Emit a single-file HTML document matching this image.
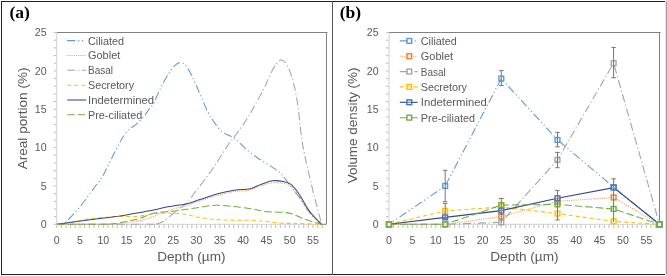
<!DOCTYPE html><html><head><meta charset="utf-8"><style>html,body{margin:0;padding:0;background:#fff;}svg{display:block;will-change:transform;}text{font-family:"Liberation Sans", sans-serif;}.serif{font-family:"Liberation Serif",serif;font-weight:bold;}</style></head><body>
<svg width="667" height="276" viewBox="0 0 667 276">
<rect x="0" y="0" width="667" height="276" fill="#fff"/>
<rect x="1" y="1" width="1" height="274" fill="#222"/>
<rect x="1" y="1" width="665" height="1" fill="#222"/>
<rect x="1" y="274" width="665" height="1" fill="#222"/>
<rect x="665" y="1" width="1" height="274" fill="#e4e4e4"/>
<rect x="666" y="1" width="1" height="274" fill="#a0a0a0"/>
<rect x="332" y="1" width="1" height="274" fill="#555"/>
<rect x="56.7" y="32" width="270.8" height="1" fill="#808080"/>
<rect x="326" y="32" width="1" height="192.5" fill="#808080"/>
<rect x="56.2" y="32.5" width="1" height="192" fill="#D0D0D0"/>
<rect x="56.2" y="223.8" width="269.8" height="1" fill="#D0D0D0"/>
<rect x="53.7" y="223.80" width="2.5" height="1" fill="#BDBDBD"/>
<rect x="53.7" y="216.13" width="2.5" height="1" fill="#BDBDBD"/>
<rect x="53.7" y="208.46" width="2.5" height="1" fill="#BDBDBD"/>
<rect x="53.7" y="200.79" width="2.5" height="1" fill="#BDBDBD"/>
<rect x="53.7" y="193.12" width="2.5" height="1" fill="#BDBDBD"/>
<rect x="53.7" y="185.45" width="2.5" height="1" fill="#BDBDBD"/>
<rect x="53.7" y="177.78" width="2.5" height="1" fill="#BDBDBD"/>
<rect x="53.7" y="170.11" width="2.5" height="1" fill="#BDBDBD"/>
<rect x="53.7" y="162.44" width="2.5" height="1" fill="#BDBDBD"/>
<rect x="53.7" y="154.77" width="2.5" height="1" fill="#BDBDBD"/>
<rect x="53.7" y="147.10" width="2.5" height="1" fill="#BDBDBD"/>
<rect x="53.7" y="139.43" width="2.5" height="1" fill="#BDBDBD"/>
<rect x="53.7" y="131.76" width="2.5" height="1" fill="#BDBDBD"/>
<rect x="53.7" y="124.09" width="2.5" height="1" fill="#BDBDBD"/>
<rect x="53.7" y="116.42" width="2.5" height="1" fill="#BDBDBD"/>
<rect x="53.7" y="108.75" width="2.5" height="1" fill="#BDBDBD"/>
<rect x="53.7" y="101.08" width="2.5" height="1" fill="#BDBDBD"/>
<rect x="53.7" y="93.41" width="2.5" height="1" fill="#BDBDBD"/>
<rect x="53.7" y="85.74" width="2.5" height="1" fill="#BDBDBD"/>
<rect x="53.7" y="78.07" width="2.5" height="1" fill="#BDBDBD"/>
<rect x="53.7" y="70.40" width="2.5" height="1" fill="#BDBDBD"/>
<rect x="53.7" y="62.73" width="2.5" height="1" fill="#BDBDBD"/>
<rect x="53.7" y="55.06" width="2.5" height="1" fill="#BDBDBD"/>
<rect x="53.7" y="47.39" width="2.5" height="1" fill="#BDBDBD"/>
<rect x="53.7" y="39.72" width="2.5" height="1" fill="#BDBDBD"/>
<rect x="53.7" y="32.05" width="2.5" height="1" fill="#BDBDBD"/>
<rect x="56.20" y="224.7" width="1" height="3.4" fill="#BDBDBD"/>
<rect x="60.86" y="224.7" width="1" height="3.4" fill="#BDBDBD"/>
<rect x="65.52" y="224.7" width="1" height="3.4" fill="#BDBDBD"/>
<rect x="70.18" y="224.7" width="1" height="3.4" fill="#BDBDBD"/>
<rect x="74.84" y="224.7" width="1" height="3.4" fill="#BDBDBD"/>
<rect x="79.50" y="224.7" width="1" height="3.4" fill="#BDBDBD"/>
<rect x="84.16" y="224.7" width="1" height="3.4" fill="#BDBDBD"/>
<rect x="88.82" y="224.7" width="1" height="3.4" fill="#BDBDBD"/>
<rect x="93.48" y="224.7" width="1" height="3.4" fill="#BDBDBD"/>
<rect x="98.14" y="224.7" width="1" height="3.4" fill="#BDBDBD"/>
<rect x="102.80" y="224.7" width="1" height="3.4" fill="#BDBDBD"/>
<rect x="107.46" y="224.7" width="1" height="3.4" fill="#BDBDBD"/>
<rect x="112.12" y="224.7" width="1" height="3.4" fill="#BDBDBD"/>
<rect x="116.78" y="224.7" width="1" height="3.4" fill="#BDBDBD"/>
<rect x="121.44" y="224.7" width="1" height="3.4" fill="#BDBDBD"/>
<rect x="126.10" y="224.7" width="1" height="3.4" fill="#BDBDBD"/>
<rect x="130.76" y="224.7" width="1" height="3.4" fill="#BDBDBD"/>
<rect x="135.42" y="224.7" width="1" height="3.4" fill="#BDBDBD"/>
<rect x="140.08" y="224.7" width="1" height="3.4" fill="#BDBDBD"/>
<rect x="144.74" y="224.7" width="1" height="3.4" fill="#BDBDBD"/>
<rect x="149.40" y="224.7" width="1" height="3.4" fill="#BDBDBD"/>
<rect x="154.06" y="224.7" width="1" height="3.4" fill="#BDBDBD"/>
<rect x="158.72" y="224.7" width="1" height="3.4" fill="#BDBDBD"/>
<rect x="163.38" y="224.7" width="1" height="3.4" fill="#BDBDBD"/>
<rect x="168.04" y="224.7" width="1" height="3.4" fill="#BDBDBD"/>
<rect x="172.70" y="224.7" width="1" height="3.4" fill="#BDBDBD"/>
<rect x="177.36" y="224.7" width="1" height="3.4" fill="#BDBDBD"/>
<rect x="182.02" y="224.7" width="1" height="3.4" fill="#BDBDBD"/>
<rect x="186.68" y="224.7" width="1" height="3.4" fill="#BDBDBD"/>
<rect x="191.34" y="224.7" width="1" height="3.4" fill="#BDBDBD"/>
<rect x="196.00" y="224.7" width="1" height="3.4" fill="#BDBDBD"/>
<rect x="200.66" y="224.7" width="1" height="3.4" fill="#BDBDBD"/>
<rect x="205.32" y="224.7" width="1" height="3.4" fill="#BDBDBD"/>
<rect x="209.98" y="224.7" width="1" height="3.4" fill="#BDBDBD"/>
<rect x="214.64" y="224.7" width="1" height="3.4" fill="#BDBDBD"/>
<rect x="219.30" y="224.7" width="1" height="3.4" fill="#BDBDBD"/>
<rect x="223.96" y="224.7" width="1" height="3.4" fill="#BDBDBD"/>
<rect x="228.62" y="224.7" width="1" height="3.4" fill="#BDBDBD"/>
<rect x="233.28" y="224.7" width="1" height="3.4" fill="#BDBDBD"/>
<rect x="237.94" y="224.7" width="1" height="3.4" fill="#BDBDBD"/>
<rect x="242.60" y="224.7" width="1" height="3.4" fill="#BDBDBD"/>
<rect x="247.26" y="224.7" width="1" height="3.4" fill="#BDBDBD"/>
<rect x="251.92" y="224.7" width="1" height="3.4" fill="#BDBDBD"/>
<rect x="256.58" y="224.7" width="1" height="3.4" fill="#BDBDBD"/>
<rect x="261.24" y="224.7" width="1" height="3.4" fill="#BDBDBD"/>
<rect x="265.90" y="224.7" width="1" height="3.4" fill="#BDBDBD"/>
<rect x="270.56" y="224.7" width="1" height="3.4" fill="#BDBDBD"/>
<rect x="275.22" y="224.7" width="1" height="3.4" fill="#BDBDBD"/>
<rect x="279.88" y="224.7" width="1" height="3.4" fill="#BDBDBD"/>
<rect x="284.54" y="224.7" width="1" height="3.4" fill="#BDBDBD"/>
<rect x="289.20" y="224.7" width="1" height="3.4" fill="#BDBDBD"/>
<rect x="293.86" y="224.7" width="1" height="3.4" fill="#BDBDBD"/>
<rect x="298.52" y="224.7" width="1" height="3.4" fill="#BDBDBD"/>
<rect x="303.18" y="224.7" width="1" height="3.4" fill="#BDBDBD"/>
<rect x="307.84" y="224.7" width="1" height="3.4" fill="#BDBDBD"/>
<rect x="312.50" y="224.7" width="1" height="3.4" fill="#BDBDBD"/>
<rect x="317.16" y="224.7" width="1" height="3.4" fill="#BDBDBD"/>
<rect x="321.82" y="224.7" width="1" height="3.4" fill="#BDBDBD"/>
<rect x="389.0" y="32" width="271.5" height="1" fill="#808080"/>
<rect x="659" y="32" width="1" height="192.5" fill="#808080"/>
<rect x="388.5" y="32.5" width="1" height="192" fill="#D0D0D0"/>
<rect x="388.5" y="223.8" width="270.5" height="1" fill="#D0D0D0"/>
<rect x="386.0" y="223.80" width="2.5" height="1" fill="#BDBDBD"/>
<rect x="386.0" y="216.13" width="2.5" height="1" fill="#BDBDBD"/>
<rect x="386.0" y="208.46" width="2.5" height="1" fill="#BDBDBD"/>
<rect x="386.0" y="200.79" width="2.5" height="1" fill="#BDBDBD"/>
<rect x="386.0" y="193.12" width="2.5" height="1" fill="#BDBDBD"/>
<rect x="386.0" y="185.45" width="2.5" height="1" fill="#BDBDBD"/>
<rect x="386.0" y="177.78" width="2.5" height="1" fill="#BDBDBD"/>
<rect x="386.0" y="170.11" width="2.5" height="1" fill="#BDBDBD"/>
<rect x="386.0" y="162.44" width="2.5" height="1" fill="#BDBDBD"/>
<rect x="386.0" y="154.77" width="2.5" height="1" fill="#BDBDBD"/>
<rect x="386.0" y="147.10" width="2.5" height="1" fill="#BDBDBD"/>
<rect x="386.0" y="139.43" width="2.5" height="1" fill="#BDBDBD"/>
<rect x="386.0" y="131.76" width="2.5" height="1" fill="#BDBDBD"/>
<rect x="386.0" y="124.09" width="2.5" height="1" fill="#BDBDBD"/>
<rect x="386.0" y="116.42" width="2.5" height="1" fill="#BDBDBD"/>
<rect x="386.0" y="108.75" width="2.5" height="1" fill="#BDBDBD"/>
<rect x="386.0" y="101.08" width="2.5" height="1" fill="#BDBDBD"/>
<rect x="386.0" y="93.41" width="2.5" height="1" fill="#BDBDBD"/>
<rect x="386.0" y="85.74" width="2.5" height="1" fill="#BDBDBD"/>
<rect x="386.0" y="78.07" width="2.5" height="1" fill="#BDBDBD"/>
<rect x="386.0" y="70.40" width="2.5" height="1" fill="#BDBDBD"/>
<rect x="386.0" y="62.73" width="2.5" height="1" fill="#BDBDBD"/>
<rect x="386.0" y="55.06" width="2.5" height="1" fill="#BDBDBD"/>
<rect x="386.0" y="47.39" width="2.5" height="1" fill="#BDBDBD"/>
<rect x="386.0" y="39.72" width="2.5" height="1" fill="#BDBDBD"/>
<rect x="386.0" y="32.05" width="2.5" height="1" fill="#BDBDBD"/>
<rect x="388.50" y="224.7" width="1" height="3.4" fill="#BDBDBD"/>
<rect x="393.18" y="224.7" width="1" height="3.4" fill="#BDBDBD"/>
<rect x="397.86" y="224.7" width="1" height="3.4" fill="#BDBDBD"/>
<rect x="402.54" y="224.7" width="1" height="3.4" fill="#BDBDBD"/>
<rect x="407.22" y="224.7" width="1" height="3.4" fill="#BDBDBD"/>
<rect x="411.90" y="224.7" width="1" height="3.4" fill="#BDBDBD"/>
<rect x="416.58" y="224.7" width="1" height="3.4" fill="#BDBDBD"/>
<rect x="421.26" y="224.7" width="1" height="3.4" fill="#BDBDBD"/>
<rect x="425.94" y="224.7" width="1" height="3.4" fill="#BDBDBD"/>
<rect x="430.62" y="224.7" width="1" height="3.4" fill="#BDBDBD"/>
<rect x="435.30" y="224.7" width="1" height="3.4" fill="#BDBDBD"/>
<rect x="439.98" y="224.7" width="1" height="3.4" fill="#BDBDBD"/>
<rect x="444.66" y="224.7" width="1" height="3.4" fill="#BDBDBD"/>
<rect x="449.34" y="224.7" width="1" height="3.4" fill="#BDBDBD"/>
<rect x="454.02" y="224.7" width="1" height="3.4" fill="#BDBDBD"/>
<rect x="458.70" y="224.7" width="1" height="3.4" fill="#BDBDBD"/>
<rect x="463.38" y="224.7" width="1" height="3.4" fill="#BDBDBD"/>
<rect x="468.06" y="224.7" width="1" height="3.4" fill="#BDBDBD"/>
<rect x="472.74" y="224.7" width="1" height="3.4" fill="#BDBDBD"/>
<rect x="477.42" y="224.7" width="1" height="3.4" fill="#BDBDBD"/>
<rect x="482.10" y="224.7" width="1" height="3.4" fill="#BDBDBD"/>
<rect x="486.78" y="224.7" width="1" height="3.4" fill="#BDBDBD"/>
<rect x="491.46" y="224.7" width="1" height="3.4" fill="#BDBDBD"/>
<rect x="496.14" y="224.7" width="1" height="3.4" fill="#BDBDBD"/>
<rect x="500.82" y="224.7" width="1" height="3.4" fill="#BDBDBD"/>
<rect x="505.50" y="224.7" width="1" height="3.4" fill="#BDBDBD"/>
<rect x="510.18" y="224.7" width="1" height="3.4" fill="#BDBDBD"/>
<rect x="514.86" y="224.7" width="1" height="3.4" fill="#BDBDBD"/>
<rect x="519.54" y="224.7" width="1" height="3.4" fill="#BDBDBD"/>
<rect x="524.22" y="224.7" width="1" height="3.4" fill="#BDBDBD"/>
<rect x="528.90" y="224.7" width="1" height="3.4" fill="#BDBDBD"/>
<rect x="533.58" y="224.7" width="1" height="3.4" fill="#BDBDBD"/>
<rect x="538.26" y="224.7" width="1" height="3.4" fill="#BDBDBD"/>
<rect x="542.94" y="224.7" width="1" height="3.4" fill="#BDBDBD"/>
<rect x="547.62" y="224.7" width="1" height="3.4" fill="#BDBDBD"/>
<rect x="552.30" y="224.7" width="1" height="3.4" fill="#BDBDBD"/>
<rect x="556.98" y="224.7" width="1" height="3.4" fill="#BDBDBD"/>
<rect x="561.66" y="224.7" width="1" height="3.4" fill="#BDBDBD"/>
<rect x="566.34" y="224.7" width="1" height="3.4" fill="#BDBDBD"/>
<rect x="571.02" y="224.7" width="1" height="3.4" fill="#BDBDBD"/>
<rect x="575.70" y="224.7" width="1" height="3.4" fill="#BDBDBD"/>
<rect x="580.38" y="224.7" width="1" height="3.4" fill="#BDBDBD"/>
<rect x="585.06" y="224.7" width="1" height="3.4" fill="#BDBDBD"/>
<rect x="589.74" y="224.7" width="1" height="3.4" fill="#BDBDBD"/>
<rect x="594.42" y="224.7" width="1" height="3.4" fill="#BDBDBD"/>
<rect x="599.10" y="224.7" width="1" height="3.4" fill="#BDBDBD"/>
<rect x="603.78" y="224.7" width="1" height="3.4" fill="#BDBDBD"/>
<rect x="608.46" y="224.7" width="1" height="3.4" fill="#BDBDBD"/>
<rect x="613.14" y="224.7" width="1" height="3.4" fill="#BDBDBD"/>
<rect x="617.82" y="224.7" width="1" height="3.4" fill="#BDBDBD"/>
<rect x="622.50" y="224.7" width="1" height="3.4" fill="#BDBDBD"/>
<rect x="627.18" y="224.7" width="1" height="3.4" fill="#BDBDBD"/>
<rect x="631.86" y="224.7" width="1" height="3.4" fill="#BDBDBD"/>
<rect x="636.54" y="224.7" width="1" height="3.4" fill="#BDBDBD"/>
<rect x="641.22" y="224.7" width="1" height="3.4" fill="#BDBDBD"/>
<rect x="645.90" y="224.7" width="1" height="3.4" fill="#BDBDBD"/>
<rect x="650.58" y="224.7" width="1" height="3.4" fill="#BDBDBD"/>
<rect x="655.26" y="224.7" width="1" height="3.4" fill="#BDBDBD"/>
<text x="46.6" y="228.1" font-size="10.6" fill="#595959" text-anchor="end">0</text>
<text x="46.6" y="189.8" font-size="10.6" fill="#595959" text-anchor="end">5</text>
<text x="46.6" y="151.4" font-size="10.6" fill="#595959" text-anchor="end">10</text>
<text x="46.6" y="113.1" font-size="10.6" fill="#595959" text-anchor="end">15</text>
<text x="46.6" y="74.7" font-size="10.6" fill="#595959" text-anchor="end">20</text>
<text x="46.6" y="36.4" font-size="10.6" fill="#595959" text-anchor="end">25</text>
<text x="56.7" y="243.6" font-size="10.6" fill="#595959" text-anchor="middle">0</text>
<text x="80.0" y="243.6" font-size="10.6" fill="#595959" text-anchor="middle">5</text>
<text x="103.3" y="243.6" font-size="10.6" fill="#595959" text-anchor="middle">10</text>
<text x="126.6" y="243.6" font-size="10.6" fill="#595959" text-anchor="middle">15</text>
<text x="149.9" y="243.6" font-size="10.6" fill="#595959" text-anchor="middle">20</text>
<text x="173.2" y="243.6" font-size="10.6" fill="#595959" text-anchor="middle">25</text>
<text x="196.5" y="243.6" font-size="10.6" fill="#595959" text-anchor="middle">30</text>
<text x="219.8" y="243.6" font-size="10.6" fill="#595959" text-anchor="middle">35</text>
<text x="243.1" y="243.6" font-size="10.6" fill="#595959" text-anchor="middle">40</text>
<text x="266.4" y="243.6" font-size="10.6" fill="#595959" text-anchor="middle">45</text>
<text x="289.7" y="243.6" font-size="10.6" fill="#595959" text-anchor="middle">50</text>
<text x="313.0" y="243.6" font-size="10.6" fill="#595959" text-anchor="middle">55</text>
<text x="378.6" y="228.1" font-size="10.6" fill="#595959" text-anchor="end">0</text>
<text x="378.6" y="189.8" font-size="10.6" fill="#595959" text-anchor="end">5</text>
<text x="378.6" y="151.4" font-size="10.6" fill="#595959" text-anchor="end">10</text>
<text x="378.6" y="113.1" font-size="10.6" fill="#595959" text-anchor="end">15</text>
<text x="378.6" y="74.7" font-size="10.6" fill="#595959" text-anchor="end">20</text>
<text x="378.6" y="36.4" font-size="10.6" fill="#595959" text-anchor="end">25</text>
<text x="389.0" y="243.6" font-size="10.6" fill="#595959" text-anchor="middle">0</text>
<text x="412.4" y="243.6" font-size="10.6" fill="#595959" text-anchor="middle">5</text>
<text x="435.8" y="243.6" font-size="10.6" fill="#595959" text-anchor="middle">10</text>
<text x="459.2" y="243.6" font-size="10.6" fill="#595959" text-anchor="middle">15</text>
<text x="482.6" y="243.6" font-size="10.6" fill="#595959" text-anchor="middle">20</text>
<text x="506.0" y="243.6" font-size="10.6" fill="#595959" text-anchor="middle">25</text>
<text x="529.4" y="243.6" font-size="10.6" fill="#595959" text-anchor="middle">30</text>
<text x="552.8" y="243.6" font-size="10.6" fill="#595959" text-anchor="middle">35</text>
<text x="576.2" y="243.6" font-size="10.6" fill="#595959" text-anchor="middle">40</text>
<text x="599.6" y="243.6" font-size="10.6" fill="#595959" text-anchor="middle">45</text>
<text x="623.0" y="243.6" font-size="10.6" fill="#595959" text-anchor="middle">50</text>
<text x="646.4" y="243.6" font-size="10.6" fill="#595959" text-anchor="middle">55</text>
<text x="191.4" y="261.0" font-size="13.0" fill="#595959" text-anchor="middle" textLength="68.3" lengthAdjust="spacingAndGlyphs">Depth (µm)</text>
<text x="524.4" y="261.2" font-size="13.0" fill="#595959" text-anchor="middle" textLength="68.3" lengthAdjust="spacingAndGlyphs">Depth (µm)</text>
<text transform="translate(26.6,118.4) rotate(-90)" font-size="13.0" textLength="101.8" lengthAdjust="spacingAndGlyphs" fill="#595959" text-anchor="middle">Areal portion (%)</text>
<text transform="translate(357.3,125.4) rotate(-90)" font-size="13.0" textLength="115.8" lengthAdjust="spacingAndGlyphs" fill="#595959" text-anchor="middle">Volume density (%)</text>
<text x="9.5" y="18.2" class="serif" font-size="17.5" fill="#000">(a)</text>
<text x="339.8" y="18.2" class="serif" font-size="17.5" fill="#000">(b)</text>
<g>
<path d="M57.0,224.3 C57.7,224.2 59.6,224.3 61.0,224.0 C62.4,223.7 63.3,224.0 65.5,222.3 C67.7,220.6 71.2,216.7 74.0,213.6 C76.8,210.5 79.6,207.3 82.4,203.7 C85.2,200.1 88.6,195.3 90.9,192.2 C93.2,189.1 94.3,187.5 96.0,185.3 C97.7,183.1 99.6,181.1 101.0,179.0 C102.4,176.9 103.3,175.1 104.5,172.8 C105.7,170.6 106.7,168.1 108.0,165.5 C109.3,162.9 110.9,159.8 112.2,157.2 C113.5,154.5 114.8,152.0 116.0,149.6 C117.2,147.2 118.3,145.1 119.5,143.0 C120.7,140.9 121.3,139.3 123.0,137.0 C124.7,134.7 127.4,131.1 129.6,129.0 C131.8,126.9 133.9,126.3 136.1,124.4 C138.3,122.5 140.4,120.3 142.6,117.8 C144.8,115.3 147.3,111.7 149.1,109.3 C150.9,106.9 152.1,106.2 153.6,103.6 C155.1,101.0 156.4,97.1 158.1,93.5 C159.8,89.9 161.8,85.6 163.6,82.2 C165.4,78.8 167.2,75.8 169.0,73.1 C170.8,70.4 172.6,67.7 174.4,65.9 C176.2,64.1 178.1,62.6 179.9,62.4 C181.7,62.2 183.6,63.2 185.3,64.8 C187.0,66.4 188.6,69.8 190.0,72.2 C191.4,74.7 192.4,77.1 193.5,79.5 C194.6,81.9 195.6,83.8 196.8,86.5 C198.0,89.2 199.0,91.9 200.8,96.0 C202.6,100.1 205.4,107.1 207.5,111.3 C209.6,115.5 211.0,117.9 213.5,121.3 C216.0,124.7 218.8,128.9 222.3,131.8 C225.9,134.7 230.8,135.7 234.8,138.6 C238.8,141.5 242.5,146.1 246.4,149.4 C250.3,152.7 254.1,155.5 258.0,158.2 C261.9,160.9 266.4,163.2 270.0,165.6 C273.6,168.0 277.3,170.4 279.8,172.6 C282.3,174.8 283.3,176.4 285.0,178.5 C286.7,180.6 288.3,183.0 290.0,185.2 C291.7,187.4 293.4,189.7 295.0,191.8 C296.6,193.9 297.1,194.3 299.5,197.6 C301.9,200.9 305.7,207.1 309.3,211.6 C312.9,216.1 319.4,222.2 321.4,224.3" fill="none" stroke="#5B9BD5" stroke-width="1.05" stroke-dasharray="8.2 2.7 1.2 2.7 1.2 2.7" stroke-dashoffset="6"/>
<path d="M57.0,224.3 C64.2,224.3 90.8,224.2 100.0,224.2 C109.2,224.1 108.7,224.1 112.0,224.0 C115.3,223.9 116.7,223.8 120.0,223.4 C123.3,223.0 127.7,222.5 132.0,221.8 C136.3,221.1 140.8,220.5 146.1,219.0 C151.4,217.5 158.6,214.4 163.6,212.6 C168.6,210.8 171.9,209.5 176.0,208.3 C180.1,207.1 184.0,206.4 188.0,205.2 C192.0,203.9 195.2,202.4 200.0,200.8 C204.8,199.2 211.3,197.1 217.0,195.6 C222.7,194.1 229.2,192.4 234.0,191.6 C238.8,190.8 243.0,191.0 246.0,190.6 C249.0,190.2 250.0,190.0 252.0,189.4 C254.0,188.8 255.8,188.0 258.0,187.2 C260.2,186.4 262.6,185.3 265.0,184.6 C267.4,183.9 269.4,183.1 272.2,182.8 C275.0,182.5 279.0,182.5 282.0,183.0 C285.0,183.5 287.1,183.6 290.0,186.0 C292.9,188.4 296.3,192.9 299.5,197.3 C302.7,201.7 305.4,208.1 309.0,212.6 C312.6,217.1 319.3,222.4 321.4,224.3" fill="none" stroke="#ED7D31" stroke-width="1.1" stroke-opacity="0.8" stroke-dasharray="1 1.2"/>
<path d="M57.0,224.3 C72.5,224.3 133.3,224.4 150.0,224.3 C166.7,224.2 154.8,224.3 157.0,223.8 C159.2,223.3 160.5,223.1 163.0,221.5 C165.5,219.9 169.2,216.7 172.0,214.5 C174.8,212.3 177.4,210.6 180.0,208.5 C182.6,206.4 184.8,204.7 187.5,201.8 C190.2,198.9 193.1,194.7 196.0,191.0 C198.9,187.3 201.9,183.5 204.7,179.7 C207.5,175.9 210.4,172.0 213.0,168.3 C215.6,164.6 217.3,161.6 220.0,157.5 C222.7,153.4 226.1,147.6 229.0,143.5 C231.9,139.4 234.1,137.2 237.2,133.0 C240.3,128.8 244.2,123.4 247.4,118.4 C250.6,113.4 253.2,108.0 256.1,102.8 C259.0,97.5 262.2,92.2 264.8,86.9 C267.4,81.6 269.8,75.0 272.0,70.9 C274.2,66.8 276.1,64.0 277.8,62.2 C279.5,60.4 280.5,59.5 282.2,60.2 C283.9,60.9 286.1,62.6 288.0,66.6 C289.9,70.6 292.1,77.2 293.8,84.0 C295.5,90.8 296.9,99.0 298.1,107.2 C299.3,115.4 300.0,125.8 301.0,133.3 C302.0,140.8 302.9,146.3 304.0,152.0 C305.1,157.7 305.7,160.4 307.4,167.6 C309.1,174.8 311.7,185.7 314.0,195.0 C316.3,204.3 320.2,218.8 321.4,223.5" fill="none" stroke="#A5A5A5" stroke-width="1.05" stroke-dasharray="8.2 2.7 1.2 2.7"/>
<path d="M57.0,224.3 C58.5,224.1 62.9,223.7 66.0,223.2 C69.1,222.7 71.6,222.2 75.7,221.5 C79.8,220.8 85.9,219.5 90.8,218.8 C95.7,218.1 100.1,217.7 105.0,217.3 C109.9,216.9 114.6,216.8 120.0,216.6 C125.4,216.4 131.6,216.7 137.4,216.2 C143.2,215.7 149.6,214.1 154.8,213.6 C160.0,213.1 163.8,213.0 168.8,213.1 C173.8,213.2 179.8,213.4 185.0,214.2 C190.2,214.9 194.5,216.7 199.8,217.6 C205.1,218.5 211.1,219.2 217.0,219.6 C222.9,220.0 228.7,220.1 235.0,220.2 C241.3,220.3 249.2,220.1 255.0,220.4 C260.8,220.7 264.7,221.6 269.7,222.1 C274.7,222.6 280.1,223.1 285.0,223.3 C289.9,223.5 293.2,223.3 299.3,223.5 C305.4,223.7 317.7,224.2 321.4,224.3" fill="none" stroke="#FFC000" stroke-width="1.05" stroke-dasharray="4 3"/>
<path d="M57.0,224.3 C62.5,223.6 79.5,221.2 90.0,219.8 C100.5,218.4 111.7,217.2 120.0,216.0 C128.3,214.8 134.2,213.5 140.0,212.5 C145.8,211.5 150.6,210.7 154.8,209.8 C159.0,208.9 161.8,208.0 165.3,207.3 C168.8,206.6 172.4,206.2 176.0,205.6 C179.6,205.0 183.0,204.8 187.0,203.8 C191.0,202.8 194.8,201.2 199.8,199.6 C204.8,198.0 211.2,195.6 217.0,194.0 C222.8,192.4 229.5,191.1 234.3,190.3 C239.1,189.5 243.1,189.7 246.0,189.3 C248.9,189.0 250.0,188.8 252.0,188.2 C254.0,187.6 255.8,186.5 258.0,185.6 C260.2,184.7 262.6,183.7 265.0,182.9 C267.4,182.1 269.4,181.1 272.2,180.8 C275.0,180.5 278.9,180.6 282.0,181.2 C285.1,181.8 287.7,182.0 290.6,184.2 C293.5,186.4 296.1,189.8 299.2,194.2 C302.3,198.6 305.4,205.8 309.1,210.8 C312.8,215.8 319.3,222.1 321.4,224.3" fill="none" stroke="#2C4A86" stroke-width="1.05"/>
<path d="M57.0,224.3 C64.2,224.3 91.2,224.3 100.0,224.3 C108.8,224.3 106.7,224.4 110.0,224.1 C113.3,223.8 115.4,223.5 120.0,222.7 C124.6,221.8 131.6,220.6 137.4,219.0 C143.2,217.4 149.0,214.3 154.8,213.0 C160.6,211.7 167.3,211.8 172.3,211.2 C177.3,210.6 180.4,210.1 185.0,209.4 C189.6,208.8 194.5,208.0 199.8,207.3 C205.1,206.6 211.2,205.3 217.0,205.2 C222.8,205.1 228.6,206.0 234.3,206.6 C240.1,207.2 246.4,208.0 251.5,208.8 C256.6,209.6 259.7,210.9 264.8,211.5 C269.9,212.1 277.5,211.9 282.0,212.3 C286.5,212.7 288.2,212.7 291.9,213.8 C295.6,214.9 299.3,217.2 304.2,219.0 C309.1,220.8 318.5,223.4 321.4,224.3" fill="none" stroke="#70AD47" stroke-width="1.05" stroke-dasharray="7.5 3"/>
<path d="M320.5,224.3 H326" stroke="#70AD47" stroke-width="1.05" fill="none"/>
</g>
<g>
<path d="M389.0,224.3 L445.2,186.0 L501.3,78.6 L557.5,139.9 L613.6,187.1 L659.5,224.3" fill="none" stroke="#5B9BD5" stroke-width="1.1" stroke-dasharray="8.2 2.7 1.2 2.7 1.2 2.7" stroke-dashoffset="6"/>
<path d="M389.0,224.3 L445.2,224.3 L501.3,216.6 L557.5,201.3 L613.6,197.5 L659.5,224.3" fill="none" stroke="#ED7D31" stroke-width="1.1" stroke-opacity="0.8" stroke-dasharray="1 1.2"/>
<path d="M389.0,224.3 L445.2,224.3 L501.3,222.3 L557.5,159.9 L613.6,63.2 L659.5,224.3" fill="none" stroke="#A5A5A5" stroke-width="1.1" stroke-dasharray="8.2 2.7 1.2 2.7"/>
<path d="M389.0,224.3 L445.2,210.9 L501.3,207.0 L557.5,213.6 L613.6,221.4 L659.5,224.3" fill="none" stroke="#FFC000" stroke-width="1.1" stroke-dasharray="4 3"/>
<path d="M389.0,224.3 L445.2,217.4 L501.3,210.6 L557.5,198.2 L613.6,187.6 L659.5,224.3" fill="none" stroke="#2C4A86" stroke-width="1.1"/>
<path d="M389.0,224.3 L445.2,224.3 L501.3,205.1 L557.5,204.4 L613.6,209.0 L659.5,224.3" fill="none" stroke="#70AD47" stroke-width="1.1" stroke-dasharray="7.5 3"/>
<rect x="386.60" y="221.90" width="4.8" height="4.8" fill="#fff" fill-opacity="0.25" stroke="#5B9BD5" stroke-width="1.4"/>
<rect x="442.76" y="183.55" width="4.8" height="4.8" fill="#fff" fill-opacity="0.25" stroke="#5B9BD5" stroke-width="1.4"/>
<rect x="498.92" y="76.17" width="4.8" height="4.8" fill="#fff" fill-opacity="0.25" stroke="#5B9BD5" stroke-width="1.4"/>
<rect x="555.08" y="137.53" width="4.8" height="4.8" fill="#fff" fill-opacity="0.25" stroke="#5B9BD5" stroke-width="1.4"/>
<rect x="611.24" y="184.70" width="4.8" height="4.8" fill="#fff" fill-opacity="0.25" stroke="#5B9BD5" stroke-width="1.4"/>
<rect x="657.10" y="221.90" width="4.8" height="4.8" fill="#fff" fill-opacity="0.25" stroke="#5B9BD5" stroke-width="1.4"/>
<rect x="386.60" y="221.90" width="4.8" height="4.8" fill="#fff" fill-opacity="0.25" stroke="#ED7D31" stroke-width="1.4"/>
<rect x="442.76" y="221.90" width="4.8" height="4.8" fill="#fff" fill-opacity="0.25" stroke="#ED7D31" stroke-width="1.4"/>
<rect x="498.92" y="214.23" width="4.8" height="4.8" fill="#fff" fill-opacity="0.25" stroke="#ED7D31" stroke-width="1.4"/>
<rect x="555.08" y="198.89" width="4.8" height="4.8" fill="#fff" fill-opacity="0.25" stroke="#ED7D31" stroke-width="1.4"/>
<rect x="611.24" y="195.06" width="4.8" height="4.8" fill="#fff" fill-opacity="0.25" stroke="#ED7D31" stroke-width="1.4"/>
<rect x="657.10" y="221.90" width="4.8" height="4.8" fill="#fff" fill-opacity="0.25" stroke="#ED7D31" stroke-width="1.4"/>
<rect x="386.60" y="221.90" width="4.8" height="4.8" fill="#fff" fill-opacity="0.25" stroke="#A5A5A5" stroke-width="1.4"/>
<rect x="442.76" y="221.90" width="4.8" height="4.8" fill="#fff" fill-opacity="0.25" stroke="#A5A5A5" stroke-width="1.4"/>
<rect x="498.92" y="219.91" width="4.8" height="4.8" fill="#fff" fill-opacity="0.25" stroke="#A5A5A5" stroke-width="1.4"/>
<rect x="555.08" y="157.47" width="4.8" height="4.8" fill="#fff" fill-opacity="0.25" stroke="#A5A5A5" stroke-width="1.4"/>
<rect x="611.24" y="60.83" width="4.8" height="4.8" fill="#fff" fill-opacity="0.25" stroke="#A5A5A5" stroke-width="1.4"/>
<rect x="657.10" y="221.90" width="4.8" height="4.8" fill="#fff" fill-opacity="0.25" stroke="#A5A5A5" stroke-width="1.4"/>
<rect x="386.60" y="221.90" width="4.8" height="4.8" fill="#fff" fill-opacity="0.25" stroke="#FFC000" stroke-width="1.4"/>
<rect x="442.76" y="208.48" width="4.8" height="4.8" fill="#fff" fill-opacity="0.25" stroke="#FFC000" stroke-width="1.4"/>
<rect x="498.92" y="204.64" width="4.8" height="4.8" fill="#fff" fill-opacity="0.25" stroke="#FFC000" stroke-width="1.4"/>
<rect x="555.08" y="211.16" width="4.8" height="4.8" fill="#fff" fill-opacity="0.25" stroke="#FFC000" stroke-width="1.4"/>
<rect x="611.24" y="218.99" width="4.8" height="4.8" fill="#fff" fill-opacity="0.25" stroke="#FFC000" stroke-width="1.4"/>
<rect x="657.10" y="221.90" width="4.8" height="4.8" fill="#fff" fill-opacity="0.25" stroke="#FFC000" stroke-width="1.4"/>
<rect x="386.60" y="221.90" width="4.8" height="4.8" fill="#fff" fill-opacity="0.25" stroke="#4472C4" stroke-width="1.4"/>
<rect x="442.76" y="215.00" width="4.8" height="4.8" fill="#fff" fill-opacity="0.25" stroke="#4472C4" stroke-width="1.4"/>
<rect x="498.92" y="208.17" width="4.8" height="4.8" fill="#fff" fill-opacity="0.25" stroke="#4472C4" stroke-width="1.4"/>
<rect x="555.08" y="195.82" width="4.8" height="4.8" fill="#fff" fill-opacity="0.25" stroke="#4472C4" stroke-width="1.4"/>
<rect x="611.24" y="185.24" width="4.8" height="4.8" fill="#fff" fill-opacity="0.25" stroke="#4472C4" stroke-width="1.4"/>
<rect x="657.10" y="221.90" width="4.8" height="4.8" fill="#fff" fill-opacity="0.25" stroke="#4472C4" stroke-width="1.4"/>
<rect x="386.60" y="221.90" width="4.8" height="4.8" fill="#fff" fill-opacity="0.25" stroke="#70AD47" stroke-width="1.4"/>
<rect x="442.76" y="221.90" width="4.8" height="4.8" fill="#fff" fill-opacity="0.25" stroke="#70AD47" stroke-width="1.4"/>
<rect x="498.92" y="202.72" width="4.8" height="4.8" fill="#fff" fill-opacity="0.25" stroke="#70AD47" stroke-width="1.4"/>
<rect x="555.08" y="201.96" width="4.8" height="4.8" fill="#fff" fill-opacity="0.25" stroke="#70AD47" stroke-width="1.4"/>
<rect x="611.24" y="206.56" width="4.8" height="4.8" fill="#fff" fill-opacity="0.25" stroke="#70AD47" stroke-width="1.4"/>
<rect x="657.10" y="221.90" width="4.8" height="4.8" fill="#fff" fill-opacity="0.25" stroke="#70AD47" stroke-width="1.4"/>
<path d="M445.2,170.3 V201.7 M442.9,170.3 h4.5 M442.9,201.7 h4.5" stroke="#777" stroke-width="1" fill="none"/>
<path d="M445.2,203.4 V218.6 M442.9,203.4 h4.5 M442.9,218.6 h4.5" stroke="#777" stroke-width="1" fill="none"/>
<path d="M501.3,70.6 V85.5 M499.1,70.6 h4.5 M499.1,85.5 h4.5" stroke="#777" stroke-width="1" fill="none"/>
<path d="M501.3,198.5 V223.5 M499.1,198.5 h4.5" stroke="#777" stroke-width="1" fill="none"/>
<path d="M557.5,132.3 V146.8 M555.2,132.3 h4.5 M555.2,146.8 h4.5" stroke="#777" stroke-width="1" fill="none"/>
<path d="M557.5,152.4 V167.7 M555.2,152.4 h4.5 M555.2,167.7 h4.5" stroke="#777" stroke-width="1" fill="none"/>
<path d="M557.5,190.4 V220.0 M555.2,190.4 h4.5 M555.2,220.0 h4.5" stroke="#777" stroke-width="1" fill="none"/>
<path d="M613.6,47.4 V77.8 M611.4,47.4 h4.5 M611.4,77.8 h4.5" stroke="#777" stroke-width="1" fill="none"/>
<path d="M613.6,178.8 V222.0 M611.4,178.8 h4.5" stroke="#777" stroke-width="1" fill="none"/>
</g>
<path d="M67.2,40.6 H84.6" fill="none" stroke="#5B9BD5" stroke-width="1.05" stroke-dasharray="8.2 2.7 1.2 2.7 1.2 2.7" stroke-dashoffset="0"/>
<text x="88.0" y="44.5" font-size="10.7" fill="#595959" textLength="36.1" lengthAdjust="spacingAndGlyphs">Ciliated</text>
<path d="M67.2,55.5 H86.3" fill="none" stroke="#ED7D31" stroke-width="1.1" stroke-opacity="0.8" stroke-dasharray="1 1.2" stroke-dashoffset="0"/>
<text x="88.0" y="59.4" font-size="10.7" fill="#595959" textLength="32.3" lengthAdjust="spacingAndGlyphs">Goblet</text>
<path d="M67.2,70.3 H86.3" fill="none" stroke="#A5A5A5" stroke-width="1.05" stroke-dasharray="8.2 2.7 1.2 2.7" stroke-dashoffset="0"/>
<text x="88.0" y="74.2" font-size="10.7" fill="#595959" textLength="24.9" lengthAdjust="spacingAndGlyphs">Basal</text>
<path d="M67.2,85.2 H86.3" fill="none" stroke="#FFC000" stroke-width="1.05" stroke-dasharray="4 3" stroke-dashoffset="0"/>
<text x="88.0" y="89.1" font-size="10.7" fill="#595959" textLength="46.1" lengthAdjust="spacingAndGlyphs">Secretory</text>
<path d="M67.2,100.0 H86.3" fill="none" stroke="#2C4A86" stroke-width="1.05" stroke-dashoffset="0"/>
<text x="88.0" y="103.9" font-size="10.7" fill="#595959" textLength="66.1" lengthAdjust="spacingAndGlyphs">Indetermined</text>
<path d="M67.2,114.8 H86.3" fill="none" stroke="#70AD47" stroke-width="1.05" stroke-dasharray="7.5 3" stroke-dashoffset="0"/>
<text x="88.0" y="118.8" font-size="10.7" fill="#595959" textLength="54.2" lengthAdjust="spacingAndGlyphs">Pre-ciliated</text>
<path d="M399.8,40.9 H417.6" fill="none" stroke="#5B9BD5" stroke-width="1.1" stroke-dasharray="8.2 2.7 1.2 2.7 1.2 2.7" stroke-dashoffset="0"/>
<rect x="406.90" y="38.50" width="4.8" height="4.8" fill="#fff" fill-opacity="0.25" stroke="#5B9BD5" stroke-width="1.4"/>
<text x="420.8" y="44.8" font-size="10.7" fill="#595959" textLength="36.1" lengthAdjust="spacingAndGlyphs">Ciliated</text>
<path d="M399.8,56.2 H417.6" fill="none" stroke="#ED7D31" stroke-width="1.1" stroke-opacity="0.8" stroke-dasharray="1 1.2" stroke-dashoffset="0"/>
<rect x="406.90" y="53.85" width="4.8" height="4.8" fill="#fff" fill-opacity="0.25" stroke="#ED7D31" stroke-width="1.4"/>
<text x="420.8" y="60.1" font-size="10.7" fill="#595959" textLength="32.3" lengthAdjust="spacingAndGlyphs">Goblet</text>
<path d="M399.8,71.6 H417.6" fill="none" stroke="#A5A5A5" stroke-width="1.1" stroke-dasharray="8.2 2.7 1.2 2.7" stroke-dashoffset="0"/>
<rect x="406.90" y="69.20" width="4.8" height="4.8" fill="#fff" fill-opacity="0.25" stroke="#A5A5A5" stroke-width="1.4"/>
<text x="420.8" y="75.5" font-size="10.7" fill="#595959" textLength="24.9" lengthAdjust="spacingAndGlyphs">Basal</text>
<path d="M399.8,86.9 H417.6" fill="none" stroke="#FFC000" stroke-width="1.1" stroke-dasharray="4 3" stroke-dashoffset="0"/>
<rect x="406.90" y="84.55" width="4.8" height="4.8" fill="#fff" fill-opacity="0.25" stroke="#FFC000" stroke-width="1.4"/>
<text x="420.8" y="90.8" font-size="10.7" fill="#595959" textLength="46.1" lengthAdjust="spacingAndGlyphs">Secretory</text>
<path d="M399.8,102.3 H417.6" fill="none" stroke="#2C4A86" stroke-width="1.1" stroke-dashoffset="0"/>
<rect x="406.90" y="99.90" width="4.8" height="4.8" fill="#fff" fill-opacity="0.25" stroke="#4472C4" stroke-width="1.4"/>
<text x="420.8" y="106.2" font-size="10.7" fill="#595959" textLength="66.1" lengthAdjust="spacingAndGlyphs">Indetermined</text>
<path d="M399.8,117.7 H417.6" fill="none" stroke="#70AD47" stroke-width="1.1" stroke-dasharray="7.5 3" stroke-dashoffset="0"/>
<rect x="406.90" y="115.25" width="4.8" height="4.8" fill="#fff" fill-opacity="0.25" stroke="#70AD47" stroke-width="1.4"/>
<text x="420.8" y="121.6" font-size="10.7" fill="#595959" textLength="54.2" lengthAdjust="spacingAndGlyphs">Pre-ciliated</text>
</svg></body></html>
